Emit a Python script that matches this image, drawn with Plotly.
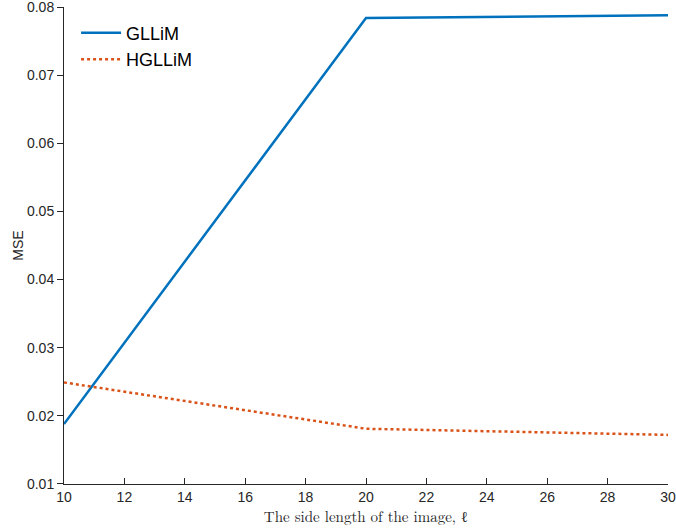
import plotly.graph_objects as go

side_length = [10, 20, 30]
gllim_mse = [0.0188, 0.0784, 0.0788]
hgllim_mse = [0.0249, 0.0181, 0.0172]
x_ticks = [10, 12, 14, 16, 18, 20, 22, 24, 26, 28, 30]
y_ticks = [0.01, 0.02, 0.03, 0.04, 0.05, 0.06, 0.07, 0.08]

fig = go.Figure()
fig.add_trace(go.Scatter(x=side_length, y=gllim_mse, mode="lines", name="GLLiM",
                         line=dict(color="#0072BD", width=2.5)))
fig.add_trace(go.Scatter(x=side_length, y=hgllim_mse, mode="lines", name="HGLLiM",
                         line=dict(color="#D95319", width=2.5, dash="dot")))

fig.update_layout(
    width=676, height=532,
    margin=dict(l=64, r=8, t=7, b=48, autoexpand=False),
    paper_bgcolor="white", plot_bgcolor="white",
    font=dict(family="Liberation Sans, Arial, sans-serif", size=14, color="#262626"),
    legend=dict(x=0.02, y=0.984, xanchor="left", yanchor="top",
                font=dict(size=18, color="#000000"), bgcolor="rgba(255,255,255,0)",
                tracegroupgap=0, itemwidth=40),
    showlegend=True,
)
fig.update_xaxes(range=[10, 30.0001], tickvals=x_ticks, ticks="inside", ticklen=6,
                 tickcolor="#262626", showline=True, linecolor="#262626", linewidth=1,
                 showgrid=False, zeroline=False, automargin=False, ticklabeloverflow="allow",
                 title=dict(text="The side length of the image, ℓ",
                            font=dict(family="Latin Modern Roman, DejaVu Serif, Liberation Serif, serif", size=15, color="#262626"),
                            standoff=4))
fig.update_yaxes(range=[0.00999, 0.08001], tickvals=y_ticks, tickformat=".2f", ticks="outside", ticklen=6,
                 tickcolor="#262626", showline=True, linecolor="#262626", linewidth=1,
                 showgrid=False, zeroline=False, automargin=False, ticklabeloverflow="allow",
                 title=dict(text="MSE", font=dict(size=14, color="#262626"), standoff=0))

fig.write_html("out.html")
